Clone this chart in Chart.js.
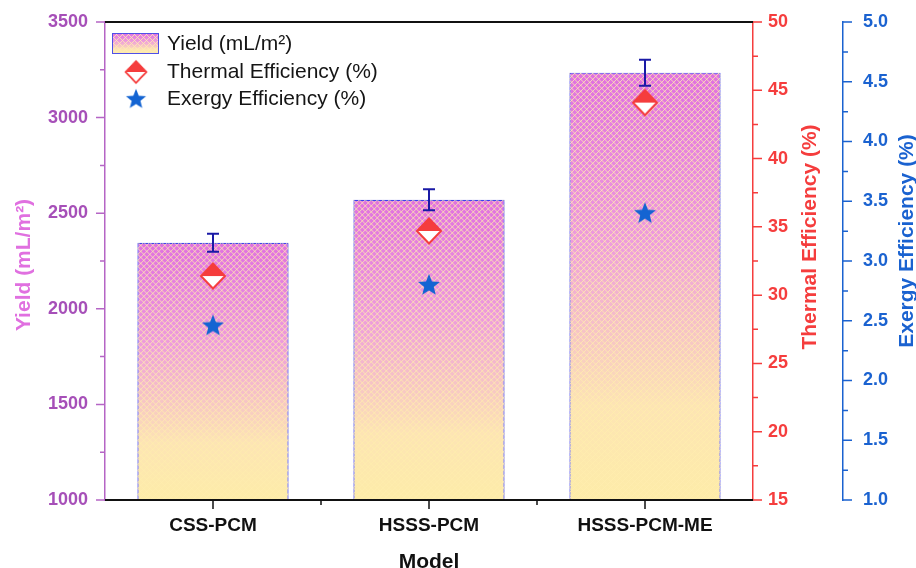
<!DOCTYPE html>
<html>
<head>
<meta charset="utf-8">
<script src="https://cdn.jsdelivr.net/npm/chart.js@4.4.1/dist/chart.umd.min.js"></script>
<style>
  html, body { margin: 0; padding: 0; background: #fff; }
  #wrap { width: 916px; height: 568px; }
</style>
</head>
<body>
<div id="wrap"><canvas id="chart" width="916" height="568"></canvas></div>
<script>
// data
const models = ['CSS-PCM', 'HSSS-PCM', 'HSSS-PCM-ME'];
const yieldValues = [2345, 2570, 3235];
const yieldErrors = [47, 55, 68];
const thermalEff = [31.4, 34.7, 44.1];
const exergyEff = [2.46, 2.80, 3.40];

// tick labels
const yieldTicks = [1000, 1500, 2000, 2500, 3000, 3500];
const thermalTicks = [15, 20, 25, 30, 35, 40, 45, 50];
const exergyTicks = [1.0, 1.5, 2.0, 2.5, 3.0, 3.5, 4.0, 4.5, 5.0];

const FONT = "'Liberation Sans', Arial, sans-serif";
const PURPLE = '#a64fb8', PURPLE_LINE = '#b565c5', PINK_TITLE = '#e070e0';
const RED = '#f53d3d', BLUE = '#1a62d0', NAVY = '#1a1aa6';

// marcadores customizados
function makeDiamond() {
    const c = document.createElement('canvas');
    c.width = 30; c.height = 30;
    const g = c.getContext('2d');
    g.fillStyle = RED;
    g.beginPath(); g.moveTo(15, 2.5); g.lineTo(27, 15); g.lineTo(3, 15); g.closePath(); g.fill();
    g.fillStyle = '#fff';
    g.beginPath(); g.moveTo(3, 15); g.lineTo(15, 27.5); g.lineTo(27, 15); g.closePath(); g.fill();
    g.strokeStyle = RED; g.lineWidth = 2;
    g.beginPath(); g.moveTo(15, 2.5); g.lineTo(27, 15); g.lineTo(15, 27.5); g.lineTo(3, 15); g.closePath(); g.stroke();
    return c;
}
function makeStar() {
    const c = document.createElement('canvas');
    c.width = 26; c.height = 26;
    const g = c.getContext('2d');
    g.fillStyle = '#1464d2';
    g.beginPath();
    for (let i = 0; i < 10; i++) {
        const r = i % 2 === 0 ? 11.5 : 5;
        const a = -Math.PI / 2 + i * Math.PI / 5;
        const px = 13 + r * Math.cos(a), py = 13.5 + r * Math.sin(a);
        i === 0 ? g.moveTo(px, py) : g.lineTo(px, py);
    }
    g.closePath(); g.fill();
    return c;
}
const diamondImg = makeDiamond();
const starImg = makeStar();

function barGradient(ctx, top, bottom) {
    const gr = ctx.createLinearGradient(0, top, 0, bottom);
    gr.addColorStop(0, '#e070e0');
    gr.addColorStop(0.4, '#ee9cdc');
    gr.addColorStop(0.78, '#fde4b4');
    gr.addColorStop(1, '#fdeca8');
    return gr;
}

function hatch(ctx, x, y, w, h) {
    ctx.save();
    ctx.beginPath(); ctx.rect(x, y, w, h); ctx.clip();
    ctx.strokeStyle = 'rgba(255, 238, 175, 0.8)';
    ctx.lineWidth = 1;
    ctx.beginPath();
    const step = 6;
    for (let k = -h; k < w + h; k += step) {
        ctx.moveTo(x + k, y); ctx.lineTo(x + k + h, y + h);
        ctx.moveTo(x + k, y + h); ctx.lineTo(x + k + h, y);
    }
    ctx.stroke();
    ctx.restore();
}

function drawTicks(ctx, scale, majors, minors, side, color) {
    ctx.save();
    ctx.strokeStyle = color; ctx.lineWidth = 1.5;
    ctx.beginPath();
    const put = (v, len) => {
        const p = scale.getPixelForValue(v);
        if (side === 'left') { ctx.moveTo(scale.right, p); ctx.lineTo(scale.right - len, p); }
        else if (side === 'right') { ctx.moveTo(scale.left, p); ctx.lineTo(scale.left + len, p); }
        else { ctx.moveTo(p, scale.top); ctx.lineTo(p, scale.top + len); }
    };
    majors.forEach(v => put(v, 9));
    minors.forEach(v => put(v, 5));
    ctx.stroke();
    ctx.restore();
}

function mids(arr) {
    const out = [];
    for (let i = 0; i < arr.length - 1; i++) out.push((arr[i] + arr[i + 1]) / 2);
    return out;
}

function vText(ctx, text, x, y, color, size) {
    ctx.save();
    ctx.translate(x, y); ctx.rotate(-Math.PI / 2);
    ctx.font = `bold ${size}px ${FONT}`;
    ctx.fillStyle = color; ctx.textAlign = 'center'; ctx.textBaseline = 'middle';
    ctx.fillText(text, 0, 0);
    ctx.restore();
}

const decoPlugin = {
    id: 'deco',
    afterDatasetDraw(chart, args) {
        if (args.meta.type !== 'bar') return;
        const ctx = chart.ctx;
        const yS = chart.scales.y;
        const area = chart.chartArea;
        args.meta.data.forEach((el, i) => {
            const p = el.getProps(['x', 'y', 'width', 'base'], true);
            const bot = Math.min(p.base, area.bottom);
            hatch(ctx, p.x - p.width / 2, p.y, p.width, bot - p.y);
            // barras de erro
            const t = yS.getPixelForValue(yieldValues[i] + yieldErrors[i]);
            const b = yS.getPixelForValue(yieldValues[i] - yieldErrors[i]);
            ctx.save();
            ctx.strokeStyle = NAVY; ctx.lineWidth = 2;
            ctx.beginPath();
            ctx.moveTo(p.x, t); ctx.lineTo(p.x, b);
            ctx.moveTo(p.x - 6, t); ctx.lineTo(p.x + 6, t);
            ctx.moveTo(p.x - 6, b); ctx.lineTo(p.x + 6, b);
            ctx.stroke();
            ctx.restore();
        });
    },
    afterDraw(chart) {
        const ctx = chart.ctx;
        const { left, right, top, bottom } = chart.chartArea;
        const s = chart.scales;

        // bordas pretas
        ctx.save();
        ctx.strokeStyle = '#111'; ctx.lineWidth = 2;
        ctx.beginPath();
        ctx.moveTo(left, top); ctx.lineTo(right, top);
        ctx.moveTo(left, bottom); ctx.lineTo(right, bottom);
        ctx.stroke();
        ctx.restore();

        drawTicks(ctx, s.y, yieldTicks, mids(yieldTicks), 'left', PURPLE_LINE);
        drawTicks(ctx, s.y1, thermalTicks, mids(thermalTicks), 'right', RED);
        drawTicks(ctx, s.y2, exergyTicks, mids(exergyTicks), 'right', BLUE);
        drawTicks(ctx, s.x, models.map((m, i) => i), mids(models.map((m, i) => i)), 'bottom', '#111');

        // títulos dos eixos
        vText(ctx, 'Yield (mL/m²)', 24, 265, PINK_TITLE, 21);
        vText(ctx, 'Thermal Efficiency (%)', 810, 237, RED, 21);
        vText(ctx, 'Exergy Efficiency (%)', 907, 241, BLUE, 21);
        ctx.save();
        ctx.font = `bold 21px ${FONT}`; ctx.fillStyle = '#111';
        ctx.textAlign = 'center'; ctx.textBaseline = 'alphabetic';
        ctx.fillText('Model', (left + right) / 2, 568);
        ctx.restore();

        // legenda
        ctx.save();
        ctx.fillStyle = barGradient(ctx, 33, 54);
        ctx.fillRect(112, 33, 47, 21);
        hatch(ctx, 112, 33, 47, 21);
        ctx.strokeStyle = '#5050e8'; ctx.lineWidth = 1;
        ctx.strokeRect(112.5, 33.5, 46, 20);
        ctx.drawImage(diamondImg, 136 - 13, 72 - 13, 26, 26);
        ctx.drawImage(starImg, 136 - 12, 99 - 12, 24, 24);
        ctx.font = `21px ${FONT}`; ctx.fillStyle = '#151515';
        ctx.textAlign = 'left'; ctx.textBaseline = 'middle';
        ctx.fillText('Yield (mL/m²)', 167, 44);
        ctx.fillText('Thermal Efficiency (%)', 167, 72);
        ctx.fillText('Exergy Efficiency (%)', 167, 99);
        ctx.restore();
    }
};

const fixTicks = (arr) => (scale) => { scale.ticks = arr.map(v => ({ value: v })); };
// largura fixa do eixo e sem folga extra de rótulos
const fixWidth = (w) => (s) => { s.width = w; s.paddingTop = 0; s.paddingBottom = 0; };

new Chart(document.getElementById('chart'), {
    type: 'bar',
    data: {
        labels: models,
        datasets: [
            {
                label: 'Yield (mL/m²)',
                data: yieldValues,
                yAxisID: 'y',
                order: 3,
                backgroundColor: (c) => {
                    const area = c.chart.chartArea;
                    if (!area || c.type !== 'data') return '#e890dc';
                    const top = c.chart.scales.y.getPixelForValue(c.raw);
                    return barGradient(c.chart.ctx, top, area.bottom);
                },
                borderColor: '#4040f0',
                borderWidth: 1.2,
                borderSkipped: false,
                barPercentage: 0.7,
                categoryPercentage: 1.0
            },
            {
                label: 'Thermal Efficiency (%)',
                type: 'line',
                data: thermalEff,
                yAxisID: 'y1',
                order: 2,
                showLine: false,
                pointStyle: diamondImg,
                pointRadius: 13
            },
            {
                label: 'Exergy Efficiency (%)',
                type: 'line',
                data: exergyEff,
                yAxisID: 'y2',
                order: 1,
                showLine: false,
                pointStyle: starImg,
                pointRadius: 12
            }
        ]
    },
    options: {
        responsive: false,
        animation: false,
        events: [],
        layout: { padding: { top: 22, left: 0, right: 0, bottom: 0 } },
        plugins: { legend: { display: false }, tooltip: { enabled: false } },
        scales: {
            x: {
                grid: { display: false, drawTicks: false },
                border: { display: false },
                ticks: { color: '#111', font: { family: FONT, size: 19, weight: 'bold' }, padding: 14 },
                afterFit: (s) => { s.height = 68; s.paddingLeft = 0; s.paddingRight = 0; }
            },
            y: {
                position: 'left',
                min: 1000, max: 3500,
                afterBuildTicks: fixTicks(yieldTicks),
                grid: { display: false, drawTicks: false },
                border: { display: true, color: PURPLE_LINE, width: 1.5 },
                ticks: {
                    color: PURPLE, font: { family: FONT, size: 18, weight: 'bold' }, padding: 17,
                    callback: (v) => String(v)
                },
                afterFit: fixWidth(105)
            },
            y1: {
                position: 'right',
                weight: 0,
                min: 15, max: 50,
                afterBuildTicks: fixTicks(thermalTicks),
                grid: { display: false, drawTicks: false },
                border: { display: true, color: RED, width: 1.5 },
                ticks: {
                    color: RED, font: { family: FONT, size: 18, weight: 'bold' }, padding: 15,
                    callback: (v) => String(v)
                },
                afterFit: fixWidth(90)
            },
            y2: {
                position: 'right',
                weight: 1,
                min: 1, max: 5,
                afterBuildTicks: fixTicks(exergyTicks),
                grid: { display: false, drawTicks: false },
                border: { display: true, color: BLUE, width: 1.5 },
                ticks: {
                    color: BLUE, font: { family: FONT, size: 18, weight: 'bold' }, padding: 20,
                    callback: (v) => Number(v).toFixed(1)
                },
                afterFit: fixWidth(73)
            }
        }
    },
    plugins: [decoPlugin]
});
</script>
</body>
</html>
